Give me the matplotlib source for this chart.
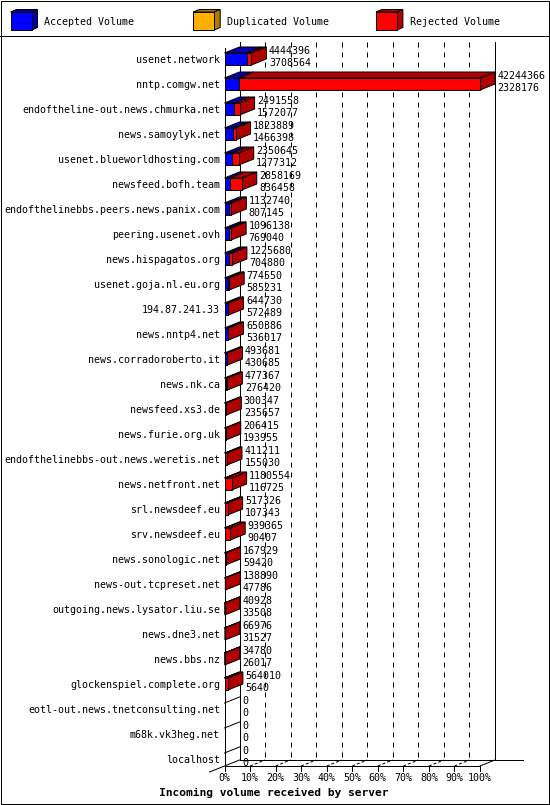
import matplotlib.pyplot as plt
from matplotlib.patches import Polygon
from matplotlib.transforms import Affine2D

servers = ['usenet.network', 'nntp.comgw.net', 'endoftheline-out.news.chmurka.net',
           'news.samoylyk.net', 'usenet.blueworldhosting.com', 'newsfeed.bofh.team',
           'endofthelinebbs.peers.news.panix.com', 'peering.usenet.ovh',
           'news.hispagatos.org', 'usenet.goja.nl.eu.org', '194.87.241.33',
           'news.nntp4.net', 'news.corradoroberto.it', 'news.nk.ca', 'newsfeed.xs3.de',
           'news.furie.org.uk', 'endofthelinebbs-out.news.weretis.net',
           'news.netfront.net', 'srl.newsdeef.eu', 'srv.newsdeef.eu',
           'news.sonologic.net', 'news-out.tcpreset.net', 'outgoing.news.lysator.liu.se',
           'news.dne3.net', 'news.bbs.nz', 'glockenspiel.complete.org',
           'eotl-out.news.tnetconsulting.net', 'm68k.vk3heg.net', 'localhost']
offered = [4444396, 42244366, 2491558, 1823889, 2350645, 2858169, 1132740, 1096138,
           1225680, 774550, 644730, 650386, 493681, 477367, 300347, 206415, 411211,
           1180554, 517326, 939365, 167929, 138890, 40928, 66976, 34780, 564010, 0, 0, 0]
accepted = [3708564, 2328176, 1572077, 1466398, 1277312, 836458, 807145, 769040,
            704880, 585231, 572489, 536017, 430685, 276420, 235657, 193955, 155030,
            116725, 107343, 90407, 59420, 47786, 33508, 31527, 26017, 5640, 0, 0, 0]
duplicated = [0, 0, 0, 0, 0, 0, 0, 0, 0, 0, 0, 0, 0, 0, 0, 0, 0, 0, 0, 0, 0, 0, 0, 0,
              0, 0, 0, 0, 0]
legend_names = ['Accepted Volume', 'Duplicated Volume', 'Rejected Volume']
tick_pcts = [0, 10, 20, 30, 40, 50, 60, 70, 80, 90, 100]

# colours: (front face, top/side face)
BLUE = ('#0000ff', '#0000b0')
ORANGE = ('#ffb000', '#b07c00')
RED = ('#ff0000', '#b00000')

# layout (pixels of the 550x805 picture)
W, H = 550, 805
X0_PX, PX_PER_PCT = 224.5, 2.555
Y0_PX, ROW_PX = 59, 25
DX = 15 / PX_PER_PCT
DY = -6 / ROW_PX
HALF = 6 / ROW_PX
LW = 0.72
MONO = 'DejaVu Sans Mono'
FS = 7.2


def rows(px):
    return px / ROW_PX


fig = plt.figure(figsize=(W / 100, H / 100), dpi=100)
ax = fig.add_axes([0, 0, 1, 1])
ax.set_xlim(-X0_PX / PX_PER_PCT, (W - X0_PX) / PX_PER_PCT)
ax.set_ylim((H - Y0_PX) / ROW_PX, -Y0_PX / ROW_PX)
ax.axis('off')

# pixel transform for frame and legend
px = Affine2D().scale(1, -1).translate(0, H)

n = len(servers)
top_back = rows(42 - Y0_PX)
floor_front = n - 1 + rows(7)
floor_back = floor_front + DY

# frame and legend separator
ax.add_patch(plt.Rectangle((0.5, 0.5), W - 2, H - 2, fill=False, ec='black',
                           lw=LW, transform=px))
ax.plot([0, W - 1.5], [35.5, 35.5], color='black', lw=LW, transform=px)


def cube(x0, x1, yt, yb, dx, dy, cols, trans, side=True, z=3):
    ax.add_patch(Polygon([(x0, yt), (x1, yt), (x1 + dx, yt + dy), (x0 + dx, yt + dy)],
                         closed=True, fc=cols[1], ec='black', lw=LW, zorder=z,
                         transform=trans))
    if side:
        ax.add_patch(Polygon([(x1, yt), (x1 + dx, yt + dy), (x1 + dx, yb + dy), (x1, yb)],
                             closed=True, fc=cols[1], ec='black', lw=LW, zorder=z,
                             transform=trans))
    ax.add_patch(Polygon([(x0, yt), (x1, yt), (x1, yb), (x0, yb)], closed=True,
                         fc=cols[0], ec='black', lw=LW, zorder=z + 0.1, transform=trans))


# legend
for i, (name, cols) in enumerate(zip(legend_names, [BLUE, ORANGE, RED])):
    x = 10.5 + i * 182.7
    cube(x, x + 21, 12, 30, 6, -2.5, cols, px)
    ax.text(x + 34, 24.5, name, family=MONO, fontsize=FS, va='baseline',
            transform=px)

# walls
ax.plot([DX, DX], [top_back, floor_back], color='black', lw=LW, zorder=2)
ax.plot([100 + DX, 100 + DX], [top_back, floor_back], color='black', lw=LW, zorder=2)
ax.plot([0, 0], [top_back - DY, floor_front], color='black', lw=LW, zorder=2)
ax.plot([DX, (523 - X0_PX) / PX_PER_PCT], [floor_back, floor_back], color='black',
        lw=LW, zorder=2)
ax.plot([0, 100], [floor_front, floor_front], color='black', lw=LW, zorder=2)
ax.plot([-DX, DX], [floor_front - DY, floor_back], color='black', lw=LW, zorder=2)
ax.plot([100, 100 + DX], [floor_front, floor_back], color='black', lw=LW, zorder=2)

for p in tick_pcts:
    if 0 < p < 100:
        ax.plot([p + DX, p + DX], [top_back, floor_back], color='black', lw=LW,
                ls=(0, (5, 5)), zorder=1)
        ax.plot([p, p + DX], [floor_front, floor_back], color='black', lw=LW,
                ls=(0, (3, 2)), zorder=1)
    ax.plot([p, p], [floor_front, floor_front + rows(5)], color='black', lw=LW, zorder=2)
    ax.text(p, floor_front + rows(15), '%d%%' % p, family=MONO, fontsize=FS,
            ha='center', va='baseline')

ax.text((274 - X0_PX) / PX_PER_PCT, floor_front + rows(30),
        'Incoming volume received by server', family=MONO, fontsize=8.1,
        fontweight='bold', ha='center', va='baseline')

# bars
scale = 100.0 / max(offered)
for i in range(n):
    a = accepted[i] * scale
    d = duplicated[i] * scale
    t = offered[i] * scale
    yt, yb = i - HALF, i + HALF
    if t == 0:
        ax.plot([0, DX], [yt, yt + DY], color='black', lw=LW, zorder=3)
    else:
        segs = [(0, a, BLUE), (a, a + d, ORANGE), (a + d, t, RED)]
        segs = [s for s in segs if s[1] > s[0]]
        for k, (x0, x1, cols) in enumerate(segs):
            cube(x0, x1, yt, yb, DX, DY, cols, ax.transData, side=(k == len(segs) - 1))
    ax.text(-4.5 / PX_PER_PCT, i + rows(4.3), servers[i], family=MONO,
            fontsize=FS, ha='right', va='baseline')
    tx = t + DX + 2.5 / PX_PER_PCT
    ax.text(tx, i - rows(5), str(offered[i]), family=MONO, fontsize=FS,
            va='baseline', zorder=5)
    ax.text(tx, i + rows(6.7), str(accepted[i]), family=MONO, fontsize=FS,
            va='baseline', zorder=5)

fig.savefig('out.png', dpi=100)
